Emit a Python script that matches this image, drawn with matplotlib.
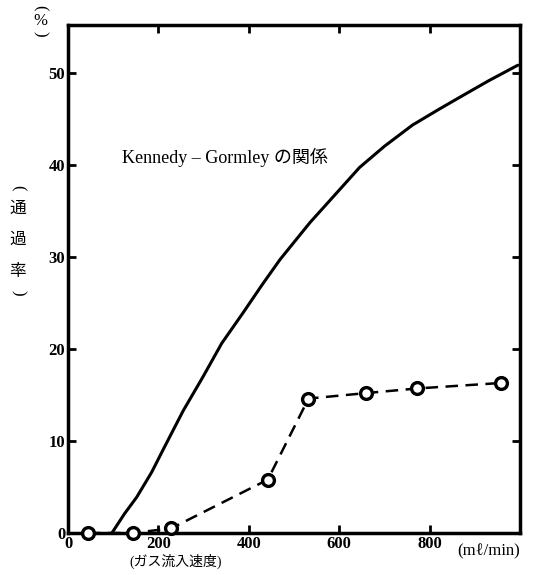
import matplotlib
matplotlib.use("Agg")
import matplotlib.pyplot as plt

plt.rcParams["font.family"] = ["Liberation Serif", "Noto Sans CJK JP", "DejaVu Sans"]

# Kennedy-Gormley relation (solid curve)
kg_x = [97, 125, 152, 185, 214, 255, 299, 340, 387, 430, 469, 535, 590, 645, 700, 762, 820, 873, 930, 995]
kg_y = [0, 2.1, 3.9, 6.6, 9.4, 13.3, 17.0, 20.6, 23.9, 27.0, 29.7, 33.7, 36.7, 39.7, 42.0, 44.3, 46.0, 47.5, 49.1, 50.8]

# measured values (dashed, open circles)
meas_x = [44, 143, 228, 442, 532, 660, 773, 959]
meas_y = [0, 0, 0.5, 5.8, 14.6, 15.2, 15.7, 16.3]

x_ticks = [0, 200, 400, 600, 800]
y_ticks = [0, 10, 20, 30, 40, 50]

fig = plt.figure(figsize=(5.4, 5.75), dpi=100)
ax = fig.add_axes([0.126, 0.073, 0.837, 0.884])

ax.plot(kg_x, kg_y, color="black", lw=2.2, solid_capstyle="round")
ax.plot(meas_x, meas_y, color="black", lw=1.8, linestyle=(0, (5, 3)),
        marker="o", markersize=8.5, markerfacecolor="white",
        markeredgewidth=2.4, markeredgecolor="black", clip_on=False, zorder=5)

ax.set_xlim(0, 1000)
ax.set_ylim(0, 55.2)
ax.set_xticks(x_ticks)
ax.set_yticks(y_ticks)
ax.tick_params(direction="in", length=6, width=2, top=True, right=True,
               labelsize=12, pad=2)
for lab in ax.get_xticklabels() + ax.get_yticklabels():
    lab.set_fontweight("bold")
for s in ax.spines.values():
    s.set_linewidth(2.5)

ax.text(119, 40.8, "Kennedy – Gormley の関係", fontsize=13, va="center")


def vertical_caption(x, ys, chars, size):
    # stack characters top to bottom, parentheses turned sideways
    for y, c in zip(ys, chars):
        rot = -90 if c in "()" else 0
        fig.text(x, y, c, fontsize=size, ha="center", va="center",
                 rotation=rot, rotation_mode="anchor")


vertical_caption(0.074, [1 - 8 / 575, 1 - 21 / 575, 1 - 34 / 575], "(%)", 12)
vertical_caption(0.033, [1 - 188 / 575, 1 - 209 / 575, 1 - 240 / 575,
                         1 - 272 / 575, 1 - 293 / 575], "(通過率)", 12)

fig.text(0.325, 0.024, "(ガス流入速度)", fontsize=10, ha="center", va="center")
fig.text(0.905, 0.041, "(mℓ/min)", fontsize=12, ha="center", va="center")

fig.savefig("out.png", dpi=100)
